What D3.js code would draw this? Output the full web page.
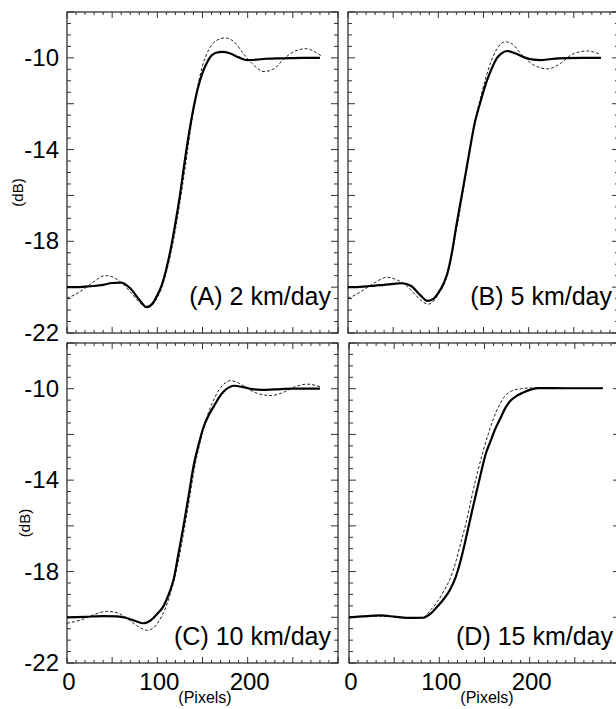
<!DOCTYPE html>
<html>
<head>
<meta charset="utf-8">
<script src="https://cdn.jsdelivr.net/npm/d3@7"></script>
<style>
  body { margin: 0; background: #fff; }
  svg { display: block; font-family: "Liberation Sans", Arial, sans-serif; }
</style>
</head>
<body>
<svg id="chart"></svg>
<script>
const width = 616;
const height = 709;

// tick labels
const xTickLabels = [0, 100, 200];
const yTickLabels = [-10, -14, -18, -22];
const panelNames = ["(A) 2 km/day", "(B) 5 km/day", "(C) 10 km/day", "(D) 15 km/day"];

// panel A (2 km/day)
const aSolidX = [0, 10, 20, 30, 40, 50, 60, 70, 80, 88, 95, 100, 105, 110, 115, 120, 125, 130, 135, 140, 145, 150, 155, 160, 165, 172, 180, 190, 200, 210, 220, 240, 260, 280];
const aSolidY = [-20.0, -20.0, -19.98, -19.95, -19.9, -19.82, -19.8, -20.05, -20.55, -20.87, -20.7, -20.35, -19.9, -19.2, -18.3, -17.2, -16.0, -14.6, -13.3, -12.2, -11.3, -10.65, -10.2, -9.9, -9.78, -9.74, -9.8, -9.98, -10.1, -10.08, -10.04, -10.02, -10.0, -10.0];
const aDashX = [0, 10, 20, 30, 42, 50, 60, 70, 80, 88, 95, 100, 105, 110, 115, 120, 125, 130, 135, 140, 145, 150, 155, 160, 165, 175, 185, 195, 205, 218, 230, 240, 250, 265, 275, 281];
const aDashY = [-20.48, -20.3, -20.05, -19.75, -19.5, -19.55, -19.8, -20.2, -20.65, -20.9, -20.75, -20.45, -20.0, -19.35, -18.5, -17.5, -16.3, -15.0, -13.6, -12.3, -11.2, -10.35, -9.8, -9.45, -9.25, -9.13, -9.3, -9.8, -10.25, -10.6, -10.45, -10.05, -9.75, -9.6, -9.75, -9.9];

// panel B (5 km/day)
const bSolidX = [0, 10, 20, 30, 40, 50, 60, 70, 80, 88, 95, 100, 106, 110, 115, 120, 125, 130, 136, 140, 147, 152, 158, 165, 170, 176, 185, 195, 205, 213, 225, 240, 260, 280];
const bSolidY = [-20.0, -20.0, -19.97, -19.93, -19.9, -19.86, -19.83, -19.95, -20.35, -20.6, -20.5, -20.25, -19.83, -19.4, -18.5, -17.3, -16.2, -15.1, -13.74, -12.9, -11.87, -11.2, -10.57, -10.0, -9.8, -9.7, -9.8, -9.98, -10.08, -10.1, -10.05, -10.01, -10.0, -10.0];
const bDashX = [0, 10, 20, 30, 43, 55, 65, 75, 83, 89, 95, 100, 106, 110, 115, 120, 125, 130, 136, 140, 147, 152, 158, 165, 174, 182, 192, 205, 221, 235, 248, 265, 275, 280];
const bDashY = [-20.48, -20.3, -20.05, -19.8, -19.57, -19.7, -19.95, -20.35, -20.65, -20.74, -20.6, -20.3, -19.9, -19.45, -18.6, -17.5, -16.4, -15.2, -13.8, -12.9, -11.7, -10.95, -10.2, -9.6, -9.3, -9.4, -9.85, -10.3, -10.48, -10.25, -9.85, -9.7, -9.78, -9.85];

// panel C (10 km/day)
const cSolidX = [0, 20, 40, 55, 65, 75, 85, 92, 100, 107, 112, 118, 123, 129, 135, 140, 146, 151, 157, 163, 168, 174, 180, 185, 195, 205, 215, 230, 250, 280];
const cSolidY = [-20.0, -19.98, -19.95, -19.96, -20.02, -20.15, -20.26, -20.15, -19.85, -19.5, -19.05, -18.35, -17.3, -16.0, -14.6, -13.4, -12.4, -11.7, -11.15, -10.74, -10.4, -10.1, -9.93, -9.87, -9.93, -10.02, -10.05, -10.03, -10.0, -10.0];
const cDashX = [0, 15, 30, 44, 55, 65, 75, 83, 89, 96, 102, 108, 113, 118, 124, 130, 136, 141, 147, 152, 158, 164, 170, 175, 181, 190, 200, 212, 226, 240, 252, 266, 281];
const cDashY = [-20.26, -20.12, -19.88, -19.74, -19.8, -20.0, -20.3, -20.5, -20.57, -20.45, -20.15, -19.7, -19.15, -18.45, -17.4, -16.1, -14.7, -13.5, -12.4, -11.6, -10.9, -10.35, -9.95, -9.75, -9.65, -9.75, -10.0, -10.22, -10.3, -10.15, -9.92, -9.8, -9.92];

// panel D (15 km/day)
const dSolidX = [0, 15, 34, 50, 64, 82, 90, 98, 105, 112, 118, 123, 128, 134, 140, 146, 151, 157, 162, 168, 173, 179, 186, 193, 200, 209, 240, 281];
const dSolidY = [-20.0, -19.96, -19.92, -19.97, -20.03, -20.02, -19.85, -19.52, -19.2, -18.78, -18.25, -17.6, -16.8, -15.74, -14.7, -13.7, -12.9, -12.26, -11.75, -11.26, -10.85, -10.52, -10.3, -10.17, -10.05, -9.97, -9.98, -9.98];
const dDashX = [0, 20, 40, 60, 82, 90, 98, 105, 112, 118, 124, 130, 136, 142, 148, 154, 160, 166, 172, 180, 190, 200, 240, 281];
const dDashY = [-20.0, -19.95, -19.95, -20.02, -20.0, -19.7, -19.3, -18.85, -18.3, -17.6, -16.7, -15.8, -14.7, -13.7, -12.8, -12.0, -11.3, -10.75, -10.35, -10.1, -10.0, -9.97, -9.98, -9.97];

const zip = (xs, ys) => xs.map((x, i) => [x, ys[i]]);

// layout of the four panels
const panels = [
  { name: panelNames[0], solid: zip(aSolidX, aSolidY), dash: zip(aDashX, aDashY), left: 67, top: 12, w: 271, h: 321, yLabels: true, xLabels: false, labelUp: 28, dbX: 18 },
  { name: panelNames[1], solid: zip(bSolidX, bSolidY), dash: zip(bDashX, bDashY), left: 348, top: 12, w: 271, h: 321, yLabels: false, xLabels: false, labelUp: 28 },
  { name: panelNames[2], solid: zip(cSolidX, cSolidY), dash: zip(cDashX, cDashY), left: 67, top: 343, w: 271, h: 320, yLabels: true, xLabels: true, labelUp: 18, dbX: 25 },
  { name: panelNames[3], solid: zip(dSolidX, dSolidY), dash: zip(dDashX, dDashY), left: 349, top: 343, w: 271, h: 320, yLabels: false, xLabels: true, labelUp: 18 }
];

const svg = d3.select("#chart").attr("width", width).attr("height", height);

panels.forEach(p => {
  const x = d3.scaleLinear().domain([0, 300]).range([p.left, p.left + p.w]);
  const y = d3.scaleLinear().domain([-22, -8]).range([p.top + p.h, p.top]);
  const g = svg.append("g");

  // ticks on all four sides, pointing in
  const minorY = d3.range(-22, -7.9, 0.5);
  const minorX = d3.range(0, 301, 10);
  const tickCol = "#333";
  minorY.forEach(v => {
    const len = Math.abs(v % 2) < 1e-6 ? 7 : 4;
    g.append("line").attr("x1", p.left).attr("x2", p.left + len)
      .attr("y1", y(v)).attr("y2", y(v)).attr("stroke", tickCol).attr("stroke-width", 1);
    g.append("line").attr("x1", p.left + p.w).attr("x2", p.left + p.w - len)
      .attr("y1", y(v)).attr("y2", y(v)).attr("stroke", tickCol).attr("stroke-width", 1);
  });
  minorX.forEach(v => {
    const len = v % 50 === 0 ? 6 : 3;
    g.append("line").attr("x1", x(v)).attr("x2", x(v))
      .attr("y1", p.top + p.h).attr("y2", p.top + p.h - len).attr("stroke", tickCol).attr("stroke-width", 1);
    g.append("line").attr("x1", x(v)).attr("x2", x(v))
      .attr("y1", p.top).attr("y2", p.top + len).attr("stroke", tickCol).attr("stroke-width", 1);
  });

  // frame
  g.append("rect").attr("x", p.left).attr("y", p.top).attr("width", p.w).attr("height", p.h)
    .attr("fill", "none").attr("stroke", "#222").attr("stroke-width", 1.2);

  const line = d3.line().x(d => x(d[0])).y(d => y(d[1])).curve(d3.curveMonotoneX);

  g.append("path").datum(p.dash).attr("d", line)
    .attr("fill", "none").attr("stroke", "#222").attr("stroke-width", 1)
    .attr("stroke-dasharray", "3,2");
  g.append("path").datum(p.solid).attr("d", line)
    .attr("fill", "none").attr("stroke", "#000").attr("stroke-width", 2.2);

  g.append("text").attr("x", p.left + 264).attr("y", p.top + p.h - p.labelUp)
    .attr("text-anchor", "end").attr("font-size", 25).text(p.name);

  if (p.yLabels) {
    yTickLabels.forEach(v => {
      g.append("text").attr("x", p.left - 8).attr("y", y(v) + 8)
        .attr("text-anchor", "end").attr("font-size", 24).text(v);
    });
    g.append("text")
      .attr("transform", "translate(" + (p.dbX + 5) + "," + (p.top + p.h / 2 + 20) + ") rotate(-90)")
      .attr("text-anchor", "middle").attr("font-size", 15).text("(dB)");
  }
  if (p.xLabels) {
    xTickLabels.forEach(v => {
      g.append("text").attr("x", x(v) + 2).attr("y", p.top + p.h + 27)
        .attr("text-anchor", "middle").attr("font-size", 24).text(v);
    });
    g.append("text").attr("x", p.left + 138).attr("y", p.top + p.h + 40)
      .attr("text-anchor", "middle").attr("font-size", 16).text("(Pixels)");
  }
});
</script>
</body>
</html>
